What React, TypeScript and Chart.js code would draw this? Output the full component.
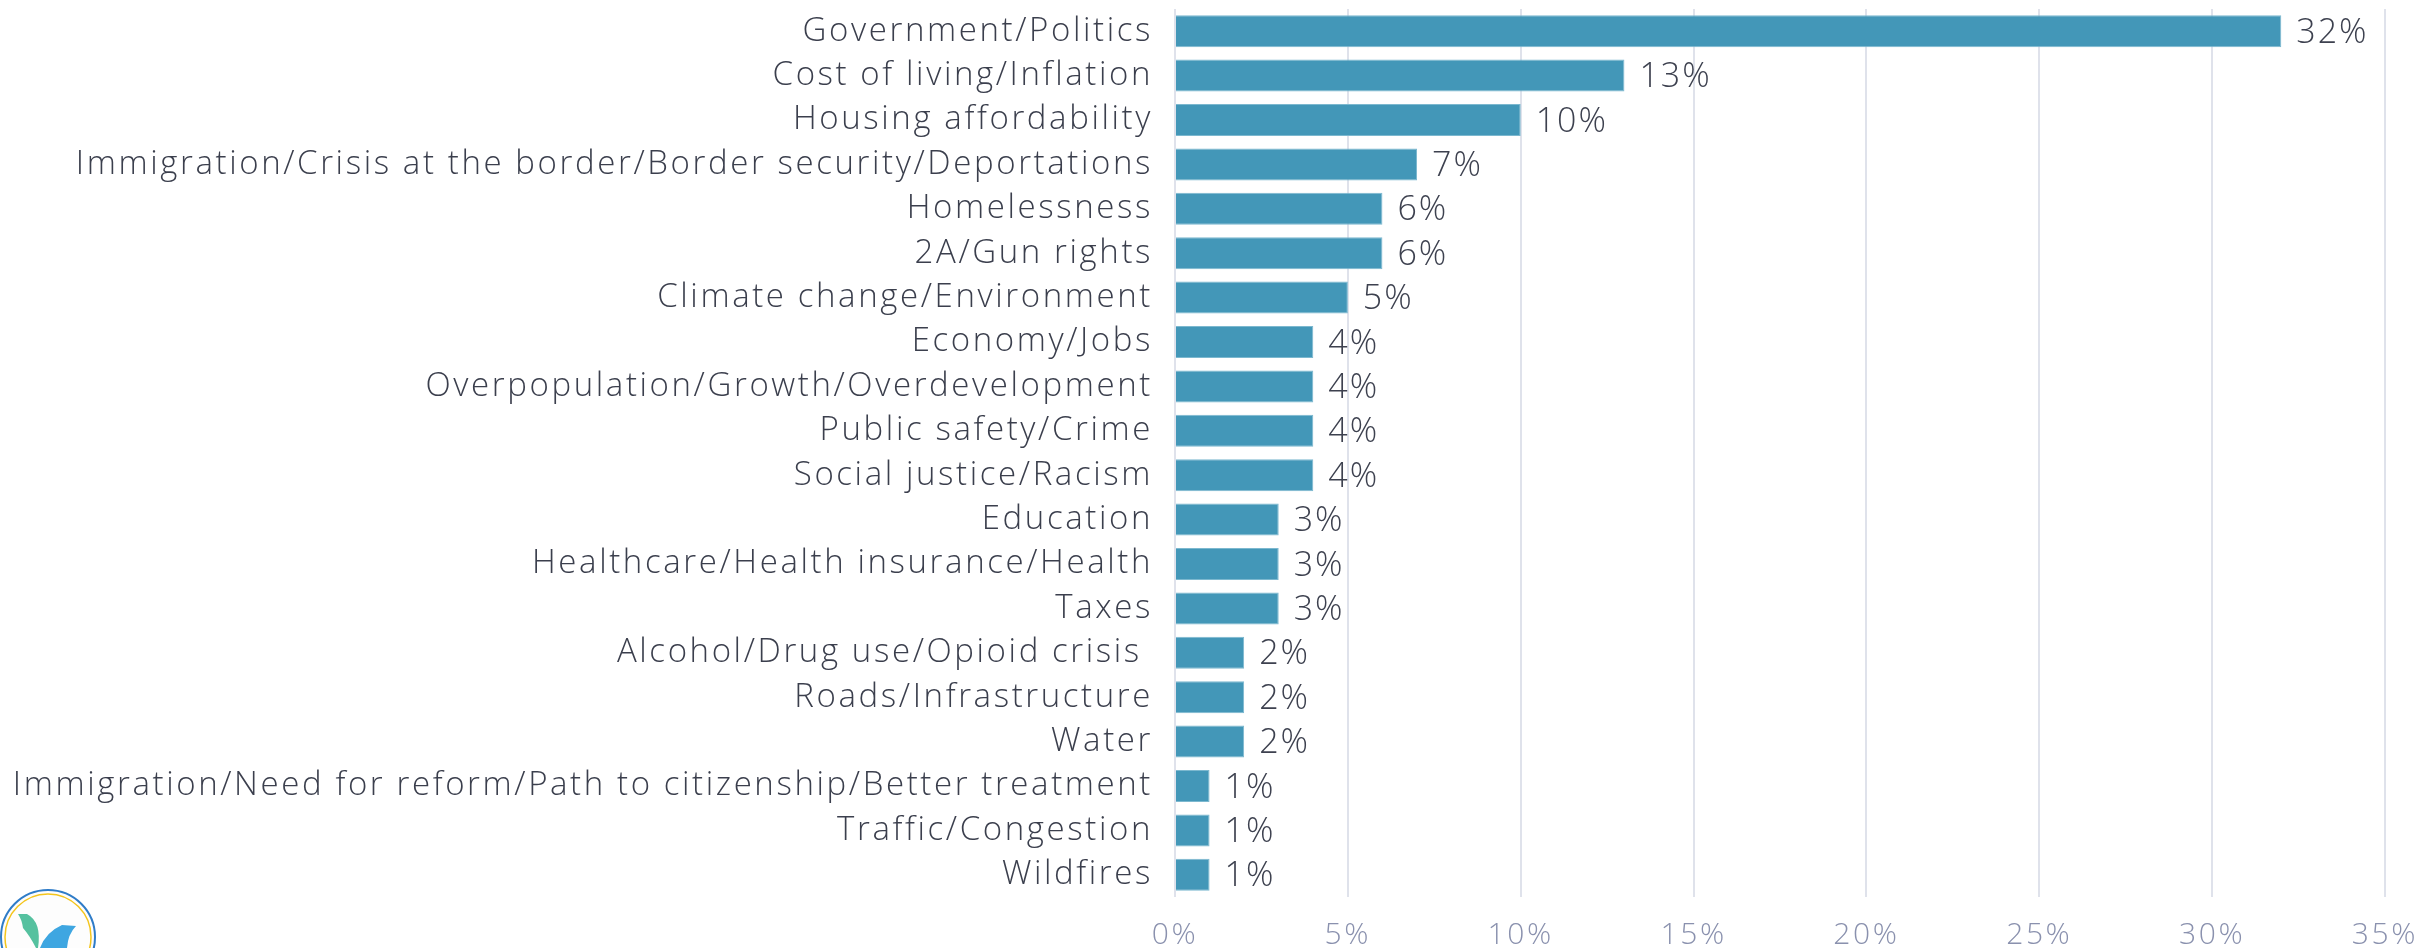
import React, { useEffect, useRef } from "react";
import { Chart, registerables } from "chart.js";

Chart.register(...registerables);

const categories: string[] = [
  "Government/Politics",
  "Cost of living/Inflation",
  "Housing affordability",
  "Immigration/Crisis at the border/Border security/Deportations",
  "Homelessness",
  "2A/Gun rights",
  "Climate change/Environment",
  "Economy/Jobs",
  "Overpopulation/Growth/Overdevelopment",
  "Public safety/Crime",
  "Social justice/Racism",
  "Education",
  "Healthcare/Health insurance/Health",
  "Taxes",
  "Alcohol/Drug use/Opioid crisis ",
  "Roads/Infrastructure",
  "Water",
  "Immigration/Need for reform/Path to citizenship/Better treatment",
  "Traffic/Congestion",
  "Wildfires",
];

const values: number[] = [32, 13, 10, 7, 6, 6, 5, 4, 4, 4, 4, 3, 3, 3, 2, 2, 2, 1, 1, 1];

const xTickValues: number[] = [0, 5, 10, 15, 20, 25, 30, 35];

const FONT = "'Open Sans', 'Noto Sans', sans-serif";

const spacingPlugin = {
  id: "spacing",
  beforeDraw(chart: any) {
    (chart.ctx as any).letterSpacing = "2.6px";
  },
};

const valueLabelPlugin = {
  id: "valueLabels",
  afterDatasetsDraw(chart: any) {
    const ctx = chart.ctx;
    const meta = chart.getDatasetMeta(0);
    ctx.save();
    (ctx as any).letterSpacing = "2px";
    ctx.font = `300 34px ${FONT}`;
    ctx.fillStyle = "#3d414f";
    ctx.textAlign = "left";
    ctx.textBaseline = "middle";
    meta.data.forEach((bar: any, i: number) => {
      ctx.fillText(`${values[i]}%`, bar.x + 15, bar.y + 2);
    });
    ctx.restore();
  },
};

const logoPlugin = {
  id: "logo",
  afterDraw(chart: any) {
    const ctx = chart.ctx;
    const cx = 48;
    const cy = 937;
    ctx.save();
    ctx.beginPath();
    ctx.arc(cx, cy, 47, 0, Math.PI * 2);
    ctx.fillStyle = "#fdfdfd";
    ctx.fill();
    ctx.lineWidth = 2;
    ctx.strokeStyle = "#2f7cc8";
    ctx.stroke();
    ctx.beginPath();
    ctx.arc(cx, cy, 43, 0, Math.PI * 2);
    ctx.lineWidth = 1.5;
    ctx.strokeStyle = "#f4c51c";
    ctx.stroke();
    // green leaf
    ctx.beginPath();
    ctx.moveTo(18, 914);
    ctx.lineTo(27, 914);
    ctx.quadraticCurveTo(42, 922, 38, 948);
    ctx.lineTo(36, 948);
    ctx.quadraticCurveTo(30, 936, 23, 928);
    ctx.quadraticCurveTo(22, 920, 18, 914);
    ctx.closePath();
    ctx.fillStyle = "#55c19f";
    ctx.fill();
    // blue leaf
    ctx.beginPath();
    ctx.moveTo(62, 925);
    ctx.lineTo(76, 926);
    ctx.quadraticCurveTo(68, 934, 67, 948);
    ctx.lineTo(40, 948);
    ctx.quadraticCurveTo(46, 932, 62, 925);
    ctx.closePath();
    ctx.fillStyle = "#3ea6e1";
    ctx.fill();
    ctx.restore();
  },
};

export default function App() {
  const canvasRef = useRef<HTMLCanvasElement | null>(null);

  useEffect(() => {
    if (!canvasRef.current) return;
    const chart = new Chart(canvasRef.current, {
      type: "bar",
      data: {
        labels: categories,
        datasets: [
          {
            data: values,
            backgroundColor: "#4397b8",
            borderColor: "#7cb8cf",
            borderWidth: 1,
            barPercentage: 0.72,
            categoryPercentage: 1,
          },
        ],
      },
      options: {
        indexAxis: "y",
        responsive: false,
        animation: false,
        devicePixelRatio: 1,
        layout: { padding: { top: 9, right: 40, left: 0, bottom: 0 } },
        plugins: {
          legend: { display: false },
          tooltip: { enabled: false },
          title: { display: false },
        },
        scales: {
          x: {
            min: 0,
            max: 35,
            afterBuildTicks: (scale: any) => {
              scale.ticks = xTickValues.map((v) => ({ value: v }));
            },
            afterFit: (scale: any) => {
              scale.height = 51;
              scale.paddingLeft = 0;
              scale.paddingRight = 0;
            },
            grid: {
              color: "#dfe2eb",
              lineWidth: 2,
              drawTicks: false,
            },
            border: { display: false },
            ticks: {
              padding: 20,
              color: "#8a91ae",
              font: { family: FONT, size: 30, weight: "300" as any },
              callback: (v: any) => `${v}%`,
              maxRotation: 0,
              autoSkip: false,
            },
          },
          y: {
            afterFit: (scale: any) => {
              scale.width = 1175;
              scale.paddingTop = 0;
              scale.paddingBottom = 0;
            },
            grid: { display: false, drawTicks: false },
            border: { display: false },
            ticks: {
              padding: 22,
              color: "#3b3f4d",
              font: { family: FONT, size: 33, weight: "300" as any },
              autoSkip: false,
            },
          },
        },
      },
      plugins: [spacingPlugin, valueLabelPlugin, logoPlugin],
    });
    return () => chart.destroy();
  }, []);

  return (
    <div style={{ position: "absolute", left: 0, top: 0, width: 2425, height: 948, background: "#ffffff" }}>
      <canvas ref={canvasRef} width={2425} height={948} style={{ width: 2425, height: 948, display: "block" }} />
    </div>
  );
}
